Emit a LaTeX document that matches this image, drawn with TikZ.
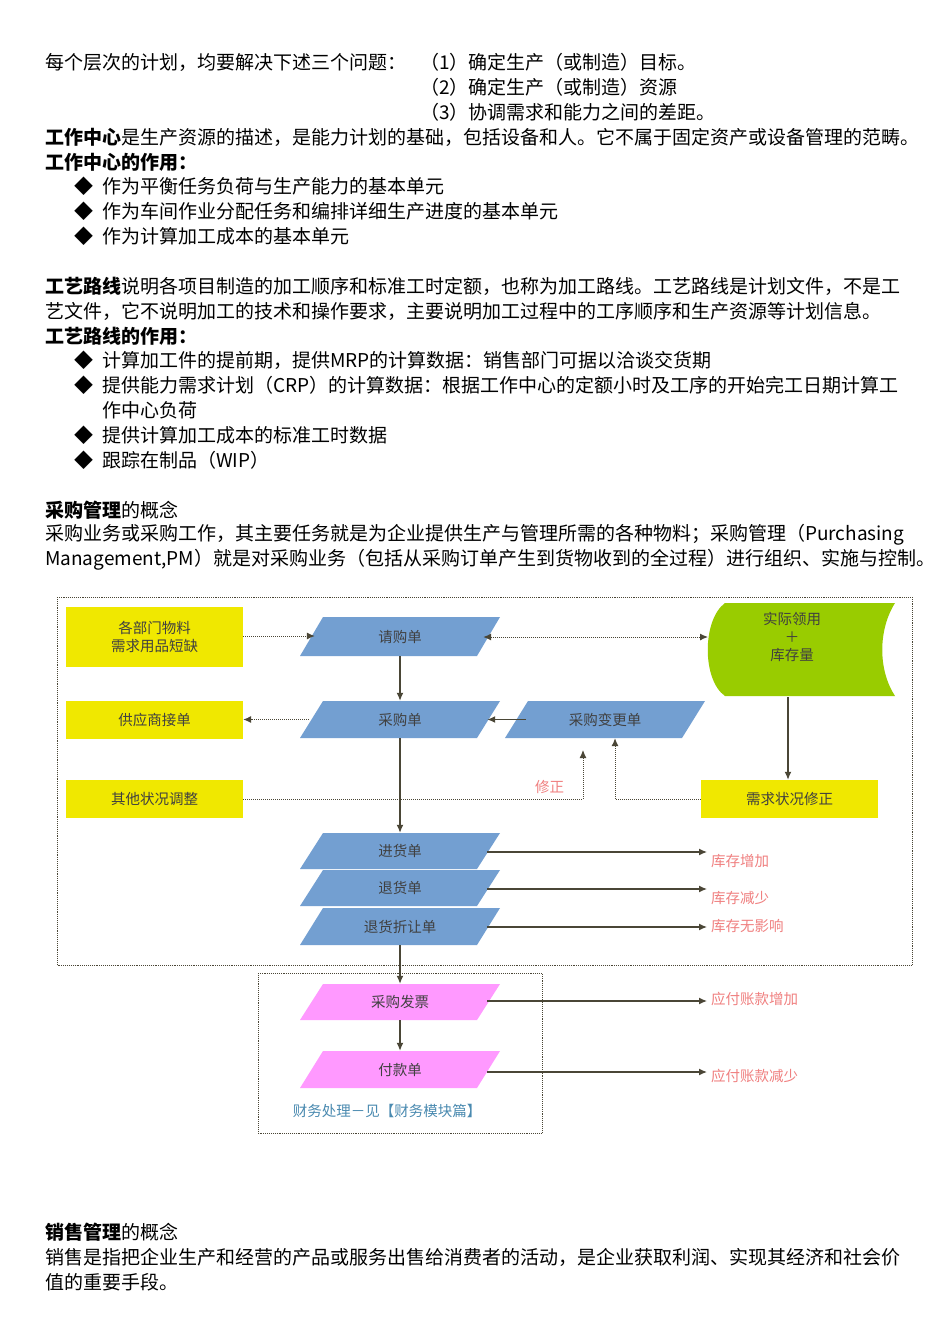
\documentclass[tikz,border=0pt]{standalone}
\usepackage{fontspec}
\setmainfont{Noto Sans CJK SC}
\usetikzlibrary{calc,arrows.meta}
\definecolor{ylw}{HTML}{F0E800}
\definecolor{blu}{HTML}{739FD1}
\definecolor{grn}{HTML}{99CC00}
\definecolor{pnk}{HTML}{FF99FF}
\definecolor{lbl}{HTML}{F08080}
\definecolor{arr}{HTML}{4A4636}
\definecolor{fin}{HTML}{4A8AB0}
\newcommand{\para}[6]{% name, cx, ytop, ybot, fill, text
  \fill[#5] ({#2-100},#4) -- ({#2-77},#3) -- ({#2+100},#3) -- ({#2+77},#4) -- cycle;
  \node[box,minimum width=154pt,minimum height={#4-#3}] (#1) at (#2,{(#3+#4)/2}) {#6};}
\begin{document}
\begin{tikzpicture}[x=1pt,y=-1pt,
  txt/.style={anchor=west,inner sep=0pt,font=\fontsize{19}{22}\selectfont},
  box/.style={inner sep=0pt,font=\fontsize{14.5}{18}\selectfont,text=black!75,align=center},
  yb/.style={box,fill=ylw,minimum width=177pt},
  lab/.style={anchor=west,inner sep=0pt,text=lbl,font=\fontsize{14.5}{18}\selectfont},
  sol/.style={draw=arr,line width=1.3pt,-{Latex[length=8pt,width=7pt]}},
  dot/.style={draw=arr,line width=1pt,densely dotted,-{Latex[length=8pt,width=7pt]}}]
\useasboundingbox (0,0) rectangle (950,1344);
\fill[white] (0,0) rectangle (950,1344);
% text
\node[txt] (t1) at (45,62) {每个层次的计划，均要解决下述三个问题：};
\node[txt] (t1b) at (420,62) {（1）确定生产（或制造）目标。};
\node[txt] (t2) at (420,87) {（2）确定生产（或制造）资源};
\node[txt] (t3) at (420,112) {（3）协调需求和能力之间的差距。};
\node[txt] (t4) at (45,137) {\textbf{工作中心}是生产资源的描述，是能力计划的基础，包括设备和人。它不属于固定资产或设备管理的范畴。};
\node[txt] (t5) at (45,162) {\textbf{工作中心的作用：}};
\foreach \y/\n in {186/a,211/b,236/c,360/d,385/e,435/f,460/g}
  \node[txt] (bu\n) at (74,\y) {◆};
\node[txt] (t6) at (102,186) {作为平衡任务负荷与生产能力的基本单元};
\node[txt] (t7) at (102,211) {作为车间作业分配任务和编排详细生产进度的基本单元};
\node[txt] (t8) at (102,236) {作为计算加工成本的基本单元};
\node[txt] (t9) at (45,286) {\textbf{工艺路线}说明各项目制造的加工顺序和标准工时定额，也称为加工路线。工艺路线是计划文件，不是工};
\node[txt] (t10) at (45,311) {艺文件，它不说明加工的技术和操作要求，主要说明加工过程中的工序顺序和生产资源等计划信息。};
\node[txt] (t11) at (45,336) {\textbf{工艺路线的作用：}};
\node[txt] (t12) at (102,360) {计算加工件的提前期，提供MRP的计算数据：销售部门可据以洽谈交货期};
\node[txt] (t13) at (102,385) {提供能力需求计划（CRP）的计算数据：根据工作中心的定额小时及工序的开始完工日期计算工};
\node[txt] (t14) at (102,410) {作中心负荷};
\node[txt] (t15) at (102,435) {提供计算加工成本的标准工时数据};
\node[txt] (t16) at (102,460) {跟踪在制品（WIP）};
\node[txt] (t17) at (45,510) {\textbf{采购管理}的概念};
\node[txt] (t18) at (45,535) {采购业务或采购工作，其主要任务就是为企业提供生产与管理所需的各种物料；采购管理（Purchasing};
\node[txt] (t19) at (45,560) {Management,PM）就是对采购业务（包括从采购订单产生到货物收到的全过程）进行组织、实施与控制。};
\node[txt] (t20) at (45,1232) {\textbf{销售管理}的概念};
\node[txt] (t21) at (45,1257) {销售是指把企业生产和经营的产品或服务出售给消费者的活动，是企业获取利润、实现其经济和社会价};
\node[txt] (t22) at (45,1282) {值的重要手段。};
% frames
\draw[arr,densely dotted,line width=0.9pt] (57,597) rectangle (912,965);
\draw[arr,densely dotted,line width=0.9pt] (258,973) rectangle (542,1133);
% yellow boxes
\node[yb,minimum height=60pt] (bm) at (154.5,637) {各部门物料\\需求用品短缺};
\node[yb,minimum height=38pt] (gy) at (154.5,720) {供应商接单};
\node[yb,minimum height=38pt] (qt) at (154.5,799) {其他状况调整};
\node[yb,minimum height=38pt] (xq) at (789.5,799) {需求状况修正};
% green
\fill[grn] (725,603) -- (895,603) .. controls (878,630) and (878,670) .. (895,696) -- (725,696) .. controls (702,680) and (702,620) .. (725,603) -- cycle;
\node[box,minimum width=150pt,minimum height=93pt] (sj) at (792,637) {实际领用\\＋\\库存量};
% parallelograms
\para{qg}{400}{617}{656}{blu}{请购单}
\para{cg}{400}{701}{738}{blu}{采购单}
\para{bg}{605}{701}{738}{blu}{采购变更单}
\para{jh}{400}{833}{869}{blu}{进货单}
\para{th}{400}{870}{906}{blu}{退货单}
\para{zr}{400}{908}{945}{blu}{退货折让单}
\para{fp}{400}{984}{1020}{pnk}{采购发票}
\para{fk}{400}{1051}{1088}{pnk}{付款单}
\node[anchor=center,inner sep=0pt,text=fin,font=\fontsize{14.5}{18}\selectfont] (cw) at (387,1111) {财务处理－见【财务模块篇】};
% labels
\node[lab] (l1) at (711,861) {库存增加};
\node[lab] (l2) at (711,898) {库存减少};
\node[lab] (l3) at (711,926) {库存无影响};
\node[lab] (l4) at (711,999) {应付账款增加};
\node[lab] (l5) at (711,1076) {应付账款减少};
\node[lab] (xz) at (535,787) {修正};
\coordinate (c1) at (707,852);
\coordinate (c2) at (707,889);
\coordinate (c3) at (707,927);
\coordinate (c4) at (707,1001);
\coordinate (c5) at (707,1072);
\coordinate (cg0) at (708,637);
% connectors
\draw[dot] (bm.east |- 0,636) -- ($(qg.west)+(-8,-0.5)$);
\draw[dot,{Latex[length=8pt,width=7pt]}-{Latex[length=8pt,width=7pt]}] ($(qg.east)+(6,0.5)$) -- (cg0);
\draw[sol] (qg.south) -- (cg.north);
\draw[dot] ($(cg.west)+(-14,0)$) -- (gy.east |- cg.west);
\draw[sol] ($(bg.west)+(-2,0)$) -- ($(cg.east)+(10,0)$);
\draw[sol] (cg.south) -- (jh.north);
\draw[dot] (qt.east) -- (583,799) -- (583,750);
\draw[dot] (xq.west) -- (615,799) -- (bg.south -| 615,0);
\draw[sol] (788,697) -- (xq.north -| 788,0);
\draw[sol] (jh.east |- c1) ++(10,0) -- (c1);
\draw[sol] (th.east |- c2) ++(10,0) -- (c2);
\draw[sol] (zr.east |- c3) ++(10,0) -- (c3);
\draw[sol] (zr.south) -- (fp.north);
\draw[sol] (fp.south) -- (fk.north);
\draw[sol] (fp.east |- c4) ++(10,0) -- (c4);
\draw[sol] (fk.east |- c5) ++(10,0) -- (c5);
\end{tikzpicture}
\end{document}
